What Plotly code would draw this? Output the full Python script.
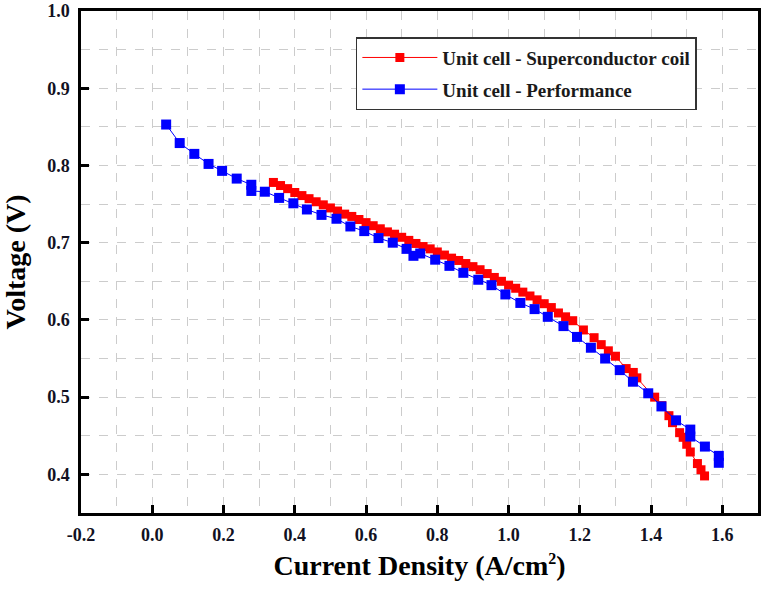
import plotly.graph_objects as go

# Unit cell - Superconductor coil (red)
x_red = [0.34, 0.36, 0.38, 0.40, 0.42, 0.44, 0.46, 0.48, 0.50, 0.52, 0.54, 0.56, 0.58, 0.60,
         0.62, 0.64, 0.66, 0.68, 0.70, 0.72, 0.74, 0.76, 0.78, 0.80, 0.82, 0.84, 0.86, 0.88,
         0.90, 0.92, 0.94, 0.96, 0.98, 1.00, 1.02, 1.04, 1.06, 1.08, 1.10, 1.12, 1.14, 1.16,
         1.18, 1.21, 1.24, 1.26, 1.28, 1.30, 1.33, 1.35, 1.36, 1.41, 1.43, 1.45, 1.46, 1.48,
         1.49, 1.50, 1.51, 1.53, 1.54, 1.55]
y_red = [0.778, 0.774, 0.770, 0.765, 0.761, 0.757, 0.753, 0.749, 0.745, 0.741, 0.737, 0.734,
         0.730, 0.726, 0.722, 0.718, 0.714, 0.711, 0.707, 0.703, 0.699, 0.695, 0.692, 0.688,
         0.684, 0.680, 0.677, 0.673, 0.669, 0.665, 0.660, 0.655, 0.650, 0.645, 0.641, 0.636,
         0.631, 0.626, 0.621, 0.616, 0.609, 0.604, 0.599, 0.587, 0.577, 0.568, 0.560, 0.553,
         0.537, 0.532, 0.525, 0.500, 0.489, 0.476, 0.467, 0.454, 0.448, 0.439, 0.429, 0.414,
         0.406, 0.398]

# Unit cell - Performance (blue)
x_blue = [0.039, 0.077, 0.118, 0.158, 0.196, 0.237, 0.278, 0.278, 0.316, 0.356, 0.396, 0.434,
          0.475, 0.517, 0.556, 0.595, 0.635, 0.675, 0.714, 0.733, 0.752, 0.794, 0.834, 0.873,
          0.915, 0.952, 0.991, 1.033, 1.073, 1.110, 1.154, 1.192, 1.231, 1.271, 1.312, 1.349,
          1.392, 1.429, 1.470, 1.510, 1.510, 1.551, 1.590, 1.590]
y_blue = [0.853, 0.829, 0.815, 0.802, 0.793, 0.783, 0.775, 0.767, 0.766, 0.758, 0.751, 0.743,
          0.736, 0.731, 0.721, 0.715, 0.706, 0.700, 0.692, 0.683, 0.686, 0.678, 0.670, 0.661,
          0.652, 0.645, 0.633, 0.622, 0.614, 0.604, 0.592, 0.578, 0.564, 0.550, 0.535, 0.520,
          0.505, 0.488, 0.470, 0.458, 0.449, 0.436, 0.424, 0.415]

x_ticks = [-0.2, 0.0, 0.2, 0.4, 0.6, 0.8, 1.0, 1.2, 1.4, 1.6]
y_ticks = [0.4, 0.5, 0.6, 0.7, 0.8, 0.9, 1.0]

FONT = "Liberation Serif"

fig = go.Figure()
fig.add_trace(go.Scatter(
    x=x_red, y=y_red, mode="lines+markers", name="<b>Unit cell - Superconductor coil</b>",
    legendgroup="a",
    line=dict(color="#ff0000", width=1),
    marker=dict(symbol="square", size=9, color="#ff0000"),
))
fig.add_trace(go.Scatter(
    x=x_blue, y=y_blue, mode="lines+markers", name="<b>Unit cell - Performance</b>",
    legendgroup="b",
    line=dict(color="#0000ff", width=1),
    marker=dict(symbol="square", size=10, color="#0000ff"),
))

axis_common = dict(
    showline=True, linecolor="black", linewidth=2.5, mirror=True,
    ticks="inside", ticklen=8, tickwidth=2.5, tickcolor="black",
    showgrid=True, gridcolor="#cccccc", gridwidth=1, griddash="dash",
    zeroline=False,
    tickfont=dict(family=FONT, size=18, color="#111122", weight="bold"),
)

fig.update_xaxes(
    range=[-0.2, 1.7], tickvals=x_ticks, ticktext=[f"{v:.1f}" for v in x_ticks],
    minor=dict(dtick=0.1, tick0=-0.2, showgrid=True, gridcolor="#cccccc", griddash="dash", ticks=""),
    title=dict(text="<b>Current Density (A/cm<sup><span style='font-size:16px'>2</span></sup>)</b>",
               font=dict(family=FONT, size=28, color="black"), standoff=12),
    ticklabelstandoff=4,
    **axis_common,
)
fig.update_yaxes(
    range=[0.35, 1.0], tickvals=y_ticks, ticktext=[f"{v:.1f}" for v in y_ticks],
    minor=dict(dtick=0.05, tick0=0.35, showgrid=True, gridcolor="#cccccc", griddash="dash", ticks=""),
    title=dict(text="<b>Voltage (V)</b>", font=dict(family=FONT, size=28, color="black"), standoff=14),
    ticklabelstandoff=5,
    **axis_common,
)

fig.update_layout(
    width=762, height=589,
    margin=dict(l=81, r=1, t=11, b=76),
    plot_bgcolor="white", paper_bgcolor="white",
    font=dict(family=FONT),
    legend=dict(
        x=0.406, y=0.948, xanchor="left", yanchor="top",
        bgcolor="white", bordercolor="#333333", borderwidth=1.5,
        font=dict(family=FONT, size=19, color="#1a1a1a"),
        itemwidth=75, tracegroupgap=4,
    ),
    showlegend=True,
)

fig.write_html("out.html")
